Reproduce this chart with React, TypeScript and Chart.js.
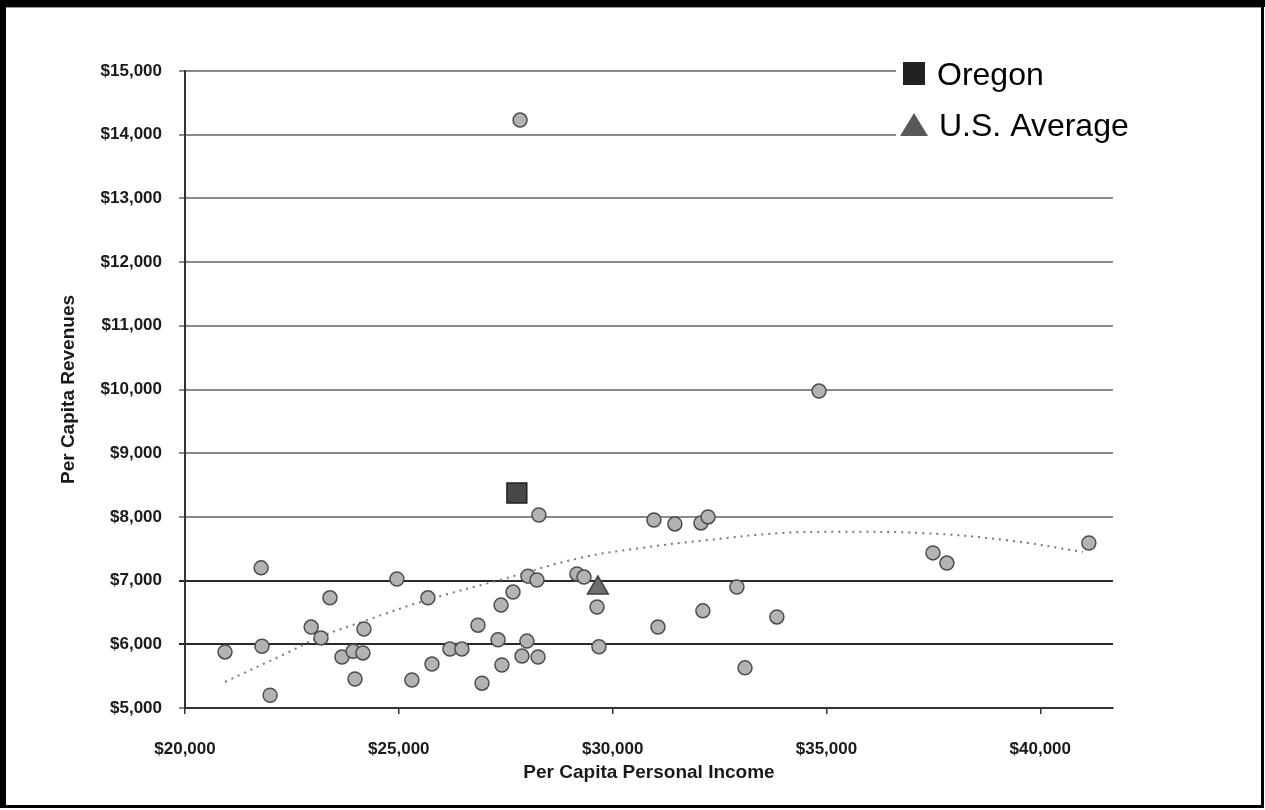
import React, { useEffect, useRef } from 'react';
import { Chart, registerables } from 'chart.js';

Chart.register(...registerables);

const FONT = "'Liberation Sans', Arial, Helvetica, sans-serif";

// States: per capita personal income (x) and per capita revenues (y)
const stateIncome = [
  20935, 21780, 21800, 21990, 22950, 23180, 23390, 23670, 23975, 23930,
  24160, 24185, 24955, 25305, 25680, 25775, 26195, 26475, 26850, 26945,
  27320, 27390, 27410, 27670, 27880, 27835, 28020, 27995, 28230, 28255,
  28275, 29165, 29330, 29635, 29680, 30965, 31060, 31455, 32065, 32230,
  32110, 32905, 33095, 33840, 34825, 37490, 37815, 41135,
];
const stateRevenue = [
  5880, 7200, 5970, 5200, 6270, 6100, 6730, 5800, 5455, 5890,
  5865, 6240, 7025, 5440, 6730, 5690, 5925, 5925, 6300, 5390,
  6070, 6615, 5675, 6820, 5815, 14230, 7070, 6050, 7010, 5800,
  8030, 7105, 7055, 6585, 5960, 7950, 6270, 7890, 7905, 8000,
  6525, 6900, 5630, 6430, 9975, 7435, 7275, 7590,
];

const oregonIncome = [27760];
const oregonRevenue = [8375];
const usIncome = [29655];
const usRevenue = [6885];

// Dotted trend line
const trendIncome = [
  20935, 22385, 23155, 24255, 25660, 27365, 29235, 30640, 32205, 33910,
  35315, 37255, 39220, 40995,
];
const trendRevenue = [
  5410, 5865, 6115, 6380, 6695, 7010, 7355, 7510, 7635, 7745,
  7765, 7745, 7635, 7450,
];

const xTickValues = [20000, 25000, 30000, 35000, 40000];
const legendLabels = ['Oregon', 'U.S. Average'];
const xTitle = 'Per Capita Personal Income';
const yTitle = 'Per Capita Revenues';

const money = (v: number) => '$' + Number(v).toLocaleString('en-US');

const zip = (xs: number[], ys: number[]) => xs.map((x, i) => ({ x, y: ys[i] }));

const framePlugin = {
  id: 'frame',
  beforeDraw(chart: any) {
    const { ctx, width, height } = chart;
    ctx.save();
    ctx.fillStyle = '#ffffff';
    ctx.fillRect(0, 0, width, height);
    ctx.restore();
  },
  afterDraw(chart: any) {
    const { ctx } = chart;
    ctx.save();
    ctx.fillStyle = '#000000';
    ctx.fillRect(0, 0, 1265, 7);
    ctx.fillRect(0, 0, 6, 808);
    ctx.fillRect(1261, 0, 3, 808);
    ctx.fillRect(0, 805, 1264, 3);
    ctx.fillStyle = '#9a9a9a';
    ctx.fillRect(6, 7, 1255, 1);
    ctx.restore();
  },
};

const legendPlugin = {
  id: 'boxLegend',
  afterDatasetsDraw(chart: any) {
    const { ctx } = chart;
    ctx.save();
    ctx.fillStyle = '#ffffff';
    ctx.fillRect(896, 50, 250, 98);
    ctx.fillStyle = '#222222';
    ctx.fillRect(903, 62, 22, 23);
    ctx.fillStyle = '#585858';
    ctx.beginPath();
    ctx.moveTo(914, 113);
    ctx.lineTo(928, 136);
    ctx.lineTo(900, 136);
    ctx.closePath();
    ctx.fill();
    ctx.fillStyle = '#000000';
    ctx.font = `32px ${FONT}`;
    ctx.textBaseline = 'alphabetic';
    ctx.textAlign = 'left';
    ctx.fillText(legendLabels[0], 937, 85);
    ctx.fillText(legendLabels[1], 939, 136);
    ctx.restore();
  },
};

export default function App() {
  const ref = useRef<HTMLCanvasElement | null>(null);

  useEffect(() => {
    if (!ref.current) return;
    const chart = new Chart(ref.current, {
      type: 'scatter',
      data: {
        datasets: [
          {
            type: 'line',
            label: 'Trend',
            data: zip(trendIncome, trendRevenue),
            borderColor: '#7a7a7a',
            borderWidth: 2,
            borderDash: [2, 5],
            pointRadius: 0,
            tension: 0.4,
            fill: false,
            order: 4,
          } as any,
          {
            label: 'States',
            data: zip(stateIncome, stateRevenue),
            backgroundColor: '#b3b3b3',
            borderColor: '#4d4d4d',
            borderWidth: 1.5,
            pointRadius: 7,
            order: 3,
          },
          {
            label: legendLabels[0],
            data: zip(oregonIncome, oregonRevenue),
            pointStyle: 'rect',
            backgroundColor: '#474747',
            borderColor: '#1e1e1e',
            borderWidth: 1.5,
            pointRadius: 14,
            order: 1,
          },
          {
            label: legendLabels[1],
            data: zip(usIncome, usRevenue),
            pointStyle: 'triangle',
            backgroundColor: '#6e6e6e',
            borderColor: '#3e3e3e',
            borderWidth: 1.5,
            pointRadius: 12,
            order: 2,
          },
        ],
      },
      options: {
        animation: false,
        responsive: false,
        maintainAspectRatio: false,
        events: [],
        layout: { padding: { left: 0, top: 71, right: 152, bottom: 0 } },
        plugins: {
          legend: { display: false },
          tooltip: { enabled: false },
          title: { display: false },
        },
        scales: {
          x: {
            type: 'linear',
            min: 20000,
            max: 41700,
            afterBuildTicks: (scale: any) => {
              scale.ticks = xTickValues.map((v) => ({ value: v }));
            },
            afterFit: (scale: any) => {
              scale.height = 102;
            },
            ticks: {
              callback: (v: any) => money(v),
              color: '#1a1a1a',
              font: { family: FONT, size: 17, weight: 'bold' },
              padding: 25,
              maxRotation: 0,
              autoSkip: false,
            },
            grid: {
              drawOnChartArea: false,
              drawTicks: true,
              tickLength: 6,
              color: '#333333',
              lineWidth: 1.5,
            },
            border: { display: true, color: '#333333', width: 2 },
            title: {
              display: true,
              text: xTitle,
              color: '#1a1a1a',
              font: { family: FONT, size: 19, weight: 'bold' },
              padding: { top: 0, bottom: 26 },
            },
          },
          y: {
            type: 'linear',
            min: 5000,
            max: 15000,
            afterFit: (scale: any) => {
              scale.width = 185;
            },
            ticks: {
              stepSize: 1000,
              callback: (v: any) => money(v),
              color: '#1a1a1a',
              font: { family: FONT, size: 17, weight: 'bold' },
              padding: 17,
            },
            grid: {
              drawOnChartArea: true,
              drawTicks: true,
              tickLength: 6,
              color: (c: any) =>
                c.tick && (c.tick.value === 6000 || c.tick.value === 7000)
                  ? '#2a2a2a'
                  : '#8a8a8a',
              lineWidth: 2,
            },
            border: { display: true, color: '#333333', width: 2 },
            title: {
              display: true,
              text: yTitle,
              color: '#1a1a1a',
              font: { family: FONT, size: 19, weight: 'bold' },
              padding: { top: 57, bottom: 0 },
            },
          },
        },
      },
      plugins: [framePlugin, legendPlugin],
    } as any);
    return () => chart.destroy();
  }, []);

  return (
    <div style={{ position: 'absolute', left: 0, top: 0, width: 1265, height: 810 }}>
      <canvas ref={ref} width={1265} height={810} style={{ width: 1265, height: 810, display: 'block' }} />
    </div>
  );
}
